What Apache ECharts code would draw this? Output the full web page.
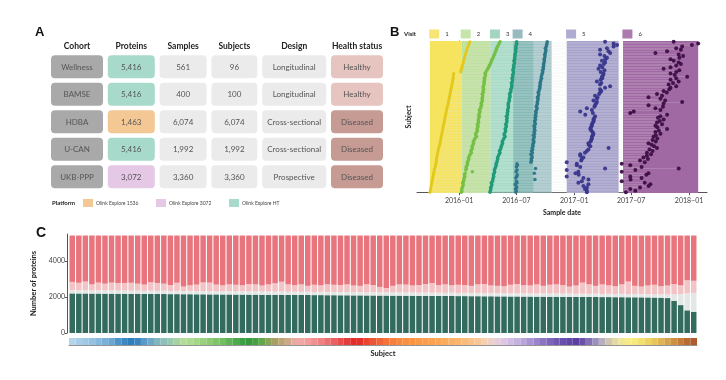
<!DOCTYPE html>
<html><head><meta charset="utf-8">
<script src="https://cdn.jsdelivr.net/npm/echarts@6/dist/echarts.min.js"></script>
<style>html,body{margin:0;padding:0;background:#fff}#c{width:726px;height:380px}</style>
</head><body><div id="c"></div>
<script>
// ---------- Panel A: cohort table ----------
const tableColumns = ['Cohort','Proteins','Samples','Subjects','Design','Health status'];
const cohorts = ['Wellness','BAMSE','HDBA','U-CAN','UKB-PPP'];
const proteins = [5416,5416,1463,5416,3072];
const samples = [561,400,6074,1992,3360];
const subjectsN = [96,100,6074,1992,3360];
const designs = ['Longitudinal','Longitudinal','Cross-sectional','Cross-sectional','Prospective'];
const healthStatus = ['Healthy','Healthy','Diseased','Diseased','Diseased'];
const platforms = ['Olink Explore HT','Olink Explore HT','Olink Explore 1536','Olink Explore HT','Olink Explore 3072'];
const platformLegend = ['Olink Explore 1536','Olink Explore 3072','Olink Explore HT'];

// ---------- Panel B: visit dates (days from 2016-01-01), subject 0 = bottom ----------
const visit1 = [-93,-92,-91,-90,-89,-88,-87,-86,-85,-84,-83,-82,-81,-80,-79,-78,-76,-75,-74,-73,
 -72,-72,-71,-70,-69,-68,-67,-66,-65,-63,-62,-61,-60,-59,-58,-57,-56,-55,-54,-53,
 -52,-51,-50,-49,-48,-47,-46,-45,-44,-43,-42,-41,-40,-39,-38,-36,-35,-34,-33,-32,
 -31,-30,-29,-28,-27,-26,-25,-24,-23,-22,-21,-20,-19,-19,-18,-17,
 5,6,8,9,10,12,13,14,15,17,18,20,21,23,24,26,28,30,32,34];
const visit2 = [7,9,8,10,12,13,11,14,15,16,18,17,19,42,21,23,22,25,27,26,
 29,31,30,33,35,39,37,40,42,41,44,46,45,48,50,55,53,52,56,58,
 57,59,60,58,62,61,61,63,64,62,65,66,64,68,69,71,70,72,74,73,
 74,75,73,77,76,78,76,77,79,80,79,81,80,82,84,82,85,88,91,94,
 96,99,101,103,105,108,110,112,114,116,118,119,122,125,127,130];
const visit3 = [98,99,101,100,103,104,102,106,107,108,110,109,111,113,112,114,116,118,117,120,
 121,123,122,125,127,130,128,131,133,134,136,138,137,140,142,146,144,143,147,148,
 146,149,150,148,151,152,151,153,150,154,153,155,154,156,157,156,156,158,160,159,
 161,162,160,163,165,164,167,167,168,166,169,170,168,171,170,172,173,171,172,174,
 173,175,176,174,177,176,178,177,179,180,179,181,180,182,183,183];
const visit4 = [180,182,179,183,181,178,184,182,241,180,183,185,239,181,184,243,182,185,184,228,
 230,229,232,231,228,233,230,234,232,235,234,236,238,235,237,239,236,240,238,241,
 239,240,238,242,241,240,243,241,244,242,245,243,246,248,245,247,249,248,250,251,
 249,252,253,251,254,255,257,256,258,257,259,260,262,261,263,264,266,265,268,267,
 269,268,270,271,270,272,273,272,274,275,276,274,277,278,279,280];
const visit5 = [406,406,400,406,395,411,379,390,411,395,342,380,370,379,342,464,385,374,374,342,
 388,390,395,385,385,400,406,411,475,417,412,411,418,420,422,422,425,427,424,420,
 417,419,422,422,425,428,427,430,432,401,425,385,422,406,430,432,435,438,427,438,
 440,432,445,448,452,448,464,480,448,452,438,450,455,454,458,459,450,462,443,455,
 448,460,464,454,465,470,462,448,480,475,448,470,491,502,491,464];
const visit6 = [530,560,544,575,602,608,590,517,545,580,544,595,602,517,560,698,580,544,517,590,
 575,600,586,597,610,597,615,605,629,620,612,602,625,615,630,618,625,640,624,635,
 661,630,624,645,629,638,650,632,640,661,544,555,640,624,648,602,650,709,655,640,
 602,645,629,660,650,668,672,690,666,680,698,672,690,725,685,672,690,700,650,672,
 690,705,698,682,672,700,712,698,624,661,705,690,709,740,760,682];
const visitNames = ['1','2','3','4','5','6'];
const visitBandStart = [-93, 7, 100, 172, 342, 521];
const visitBandEnd = [7, 100, 236, 294, 507, 760];
const dateTicks = [0, 182, 366, 547, 731];

// ---------- Panel C: proteins per subject (cumulative boundaries) ----------
const totalProteins = 5416;
const greenTop = [2200,2195,2195,2190,2190,2185,2185,2180,2180,2175,2175,2170,2170,2165,2165,2160,2160,2155,2155,2150,
 2150,2145,2145,2140,2140,2135,2135,2130,2130,2125,2125,2120,2120,2115,2115,2110,2110,2105,2105,2100,
 2100,2095,2095,2090,2090,2085,2085,2080,2080,2075,2075,2070,2070,2065,2065,2060,2060,2055,2055,2050,
 2050,2045,2045,2040,2040,2035,2035,2030,2030,2025,2025,2020,2020,2015,2015,2010,2010,2005,2005,2000,
 2000,1995,1995,1990,1990,1985,1985,1980,1975,1970,1960,1940,1790,1550,1260,1180];
const grayTop = [2380,2370,2385,2360,2375,2365,2370,2355,2365,2350,2360,2345,2355,2340,2350,2335,2345,2330,2340,2325,
 2335,2320,2330,2315,2325,2310,2320,2305,2315,2300,2310,2300,2305,2290,2300,2285,2295,2280,2290,2275,
 2285,2270,2280,2265,2275,2260,2270,2255,2265,2250,2260,2245,2255,2240,2250,2235,2245,2230,2240,2225,
 2235,2220,2230,2215,2225,2210,2220,2205,2215,2200,2210,2195,2205,2190,2200,2185,2195,2180,2190,2175,
 2185,2170,2180,2165,2175,2160,2170,2155,2160,2150,2145,2140,2150,2170,2200,2230];
const pinkTop = [2840,2790,2860,2700,2800,2740,2800,2780,2780,2790,2740,2690,2820,2780,2740,2660,2790,2580,2650,2690,
 2810,2800,2690,2650,2700,2680,2650,2720,2700,2640,2700,2760,2850,2700,2660,2700,2620,2680,2650,2700,
 2680,2660,2700,2640,2620,2700,2660,2560,2500,2620,2700,2690,2640,2660,2720,2780,2660,2700,2650,2680,
 2660,2620,2700,2720,2640,2620,2600,2680,2720,2650,2640,2700,2620,2680,2700,2660,2580,2640,2800,2700,
 2620,2700,2650,2600,2700,2860,2620,2580,2640,2680,2600,2640,2720,2650,2930,2900];
const yTicksC = [0, 2000, 4000];

// ---------- styles ----------
const subjectColors = ['#b3d4ea','#a9cde6','#9ec8e3','#94c2e0','#86b9dc','#78b0d8','#6aa6d3',
 '#4d94c8','#3d88c0','#2f7fbb','#3b86bf','#5a9ac9',
 '#6fa7c7','#7fb6c0','#8dc1b8','#9ac9b0','#a6d2a4',
 '#b2dc98','#addb92','#a2d688','#97d17e','#8ccb74','#7fc46a','#72bd60',
 '#5fb356','#4ea94c','#3f9f43','#38993e','#46a043','#62a848',
 '#8aa455','#a8a062','#bda475','#cfa888',
 '#e6a9a4','#f0a7a5','#f29c9b','#f08f8f','#ee8282',
 '#ec7070','#ea5f5f','#e84c4b','#e53b3a','#e32b2a','#e4302b','#e8442f','#ec5533',
 '#f06537','#f3733a','#f67f3c','#f8893e','#f98f41','#fa9443','#fa9946','#fb9d4a','#fba14f','#fba655','#fbab5d','#fbb066','#fbb56f','#fbbb7a','#fbc186','#fac794',
 '#f5d0b0','#f0cfc6','#e6cbd8','#dcc6e3','#d0bde3','#c4b2e0',
 '#b7a5db','#a995d3','#9a84cb','#8c74c3','#7e65bb','#7058b3',
 '#6a4fb0','#6347a8','#5c3fa1','#6a52a8','#8272b4','#9c90bf',
 '#b8b1bd','#cfc6b2','#e4dba4','#f0e694',
 '#f6ec86','#f7e97a','#f3df6c','#eed364',
 '#e7c55c','#dfb554','#d6a24b','#cd9043',
 '#c27d3a','#b86c33','#ae5c2e'];
const platformColors = {'Olink Explore 1536':'#f3c894','Olink Explore 3072':'#e4c8e6','Olink Explore HT':'#a8dacb'};
const healthColors = {'Healthy':'#e6c4c0','Diseased':'#c69b94'};
const colWidths = [52,47,47,46,64,52];
const colGap = 4.8;
const colStart = []; {let s=0; for (const w of colWidths){colStart.push(s); s+=w+colGap;}}
const visitSwatch = ['#f6e46a','#c3e4a6','#9dd4be','#93b7bd','#aba8cf','#a773aa'];
const bandColor = ['#f7e45e','#c0e2a0','rgb(110,197,163)','rgb(112,163,170)','#a7a3cc','#a169a4'];
const bandOpacity = [1,1,0.6,0.6,1,1];
const dotColor = ['#e2c81a','#74c044','#1d9a77','#2a7688','#38368c','#3d0f47'];
const dotSize = [3,3.5,3.5,3.5,4,4];
const FONT = 'Lato';

const fmt = v => v.toLocaleString('en-US');
function cellText(c,r){
  return [cohorts[r], fmt(proteins[r]), fmt(samples[r]), fmt(subjectsN[r]), designs[r], healthStatus[r]][c];
}
function cellColor(c,r){
  if (c===0) return '#a9a9a9';
  if (c===1) return platformColors[platforms[r]];
  if (c===5) return healthColors[healthStatus[r]];
  return '#ebebeb';
}
const tableData = [];
for (let r=0;r<cohorts.length;r++) for (let c=0;c<tableColumns.length;c++) tableData.push([c,r]);
const headerData = tableColumns.map((_,c)=>[c,0]);

const visits = [visit1,visit2,visit3,visit4,visit5,visit6];
const nSubj = visit1.length;
const subjLines = visit1.map((d,i)=>({coords:[[d,i],[visit6[i],i]]}));
const subjIds = greenTop.map((_,i)=>'S'+(i+1));

function dayLabel(d){
  const t = new Date(Date.UTC(2016,0,1) + d*86400000);
  return t.getUTCFullYear() + '\u2013' + String(t.getUTCMonth()+1).padStart(2,'0');
}

const legends = visitNames.map((n,k)=>({
  data:[{name:n, itemStyle:{color:visitSwatch[k], borderWidth:0}}],
  left: 459 + visitBandStart[k]*0.3146 - 0.5, top: 29.5, padding:0,
  icon:'rect', itemWidth:10, itemHeight:9, itemGap:4, selectedMode:false,
  textStyle:{fontSize:6, color:'#333', fontFamily:FONT, padding:[0,0,0,1]}
}));

const option = {
  animation:false,
  textStyle:{fontFamily:FONT},
  title:[
    {text:'A', left:30, top:21, textStyle:{fontSize:13, fontWeight:'bold', color:'#111', fontFamily:'Liberation Sans'}},
    {text:'B', left:385, top:21, textStyle:{fontSize:13, fontWeight:'bold', color:'#111', fontFamily:'Liberation Sans'}},
    {text:'C', left:31, top:221, textStyle:{fontSize:14, fontWeight:'bold', color:'#111', fontFamily:'Liberation Sans'}}
  ],
  legend: legends,
  grid:[
    {left:51, top:52.9, width:332, height:137.5},
    {left:417, top:41, width:290, height:152},
    {left:69, top:234, width:628, height:99},
    {left:69, top:338, width:628, height:7}
  ],
  xAxis:[
    {gridIndex:0, type:'value', min:0, max:332, show:false},
    {gridIndex:1, type:'value', min:-134, max:788,
      axisLine:{show:true, lineStyle:{color:'#555', width:1}},
      axisTick:{show:true, length:3, customValues:dateTicks, lineStyle:{color:'#555'}},
      axisLabel:{customValues:dateTicks, formatter:v=>dayLabel(v), fontSize:7, color:'#444', margin:4},
      splitLine:{show:false},
      name:'Sample date', nameLocation:'middle', nameGap:16,
      nameTextStyle:{fontSize:7, fontWeight:'bold', color:'#222'}},
    {gridIndex:2, type:'category', data:subjIds, show:false},
    {gridIndex:3, type:'category', data:subjIds,
      axisLine:{show:true, lineStyle:{color:'#777', width:0.8}}, axisTick:{show:false}, axisLabel:{show:false},
      name:'Subject', nameLocation:'middle', nameGap:5,
      nameTextStyle:{fontSize:7.5, fontWeight:'bold', color:'#222'}}
  ],
  yAxis:[
    {gridIndex:0, type:'value', min:-0.5, max:4.5, inverse:true, show:false},
    {gridIndex:1, type:'value', min:-0.5, max:nSubj-0.5,
      axisLine:{show:true, lineStyle:{color:'#666', width:1}}, axisTick:{show:false}, axisLabel:{show:false},
      splitLine:{show:false},
      name:'Subject', nameLocation:'middle', nameGap:5, nameRotate:90,
      nameTextStyle:{fontSize:7, fontWeight:'bold', color:'#222'}},
    {gridIndex:2, type:'value', min:0, max:5500, interval:2000, offset:2,
      axisLine:{show:true, lineStyle:{color:'#555', width:1}},
      axisTick:{show:true, length:2, customValues:yTicksC, lineStyle:{color:'#555'}},
      axisLabel:{customValues:yTicksC, formatter:v=>String(v), fontSize:7, color:'#444', margin:2},
      splitLine:{show:false},
      name:'Number of proteins', nameLocation:'middle', nameGap:24, nameRotate:90,
      nameTextStyle:{fontSize:7.5, fontWeight:'bold', color:'#222'}},
    {gridIndex:3, type:'value', min:0, max:1, show:false}
  ],
  graphic:[
    {type:'text', left:404, top:31, style:{text:'Visit', font:'bold 6px '+FONT, fill:'#222'}},
    {type:'text', left:52, top:200, style:{text:'Platform', font:'bold 6px '+FONT, fill:'#222'}},
    ...platformLegend.map((p,k)=>({type:'group', left:[83,156,229][k], top:199, children:[
      {type:'rect', shape:{x:0,y:0,width:10,height:8}, style:{fill:platformColors[p]}},
      {type:'text', x:13, y:1.5, style:{text:p, font:'5px '+FONT, fill:'#444'}}
    ]}))
  ],
  series:[
    {type:'custom', xAxisIndex:0, yAxisIndex:0, data:tableData, silent:true,
      renderItem:(params, api)=>{
        const c = api.value(0), r = api.value(1);
        const p = api.coord([colStart[c], r]);
        const w = api.size([colWidths[c], 0])[0];
        return {type:'group', children:[
          {type:'rect', shape:{x:p[0], y:p[1]-11.5, width:w, height:23, r:4}, style:{fill:cellColor(c,r)}},
          {type:'text', style:{text:cellText(c,r), x:p[0]+w/2, y:p[1]+0.5, align:'center', verticalAlign:'middle',
            fill:'#555', font:'8px '+FONT}}
        ]};
      }},
    {type:'custom', xAxisIndex:0, yAxisIndex:0, data:headerData, silent:true,
      renderItem:(params, api)=>{
        const c = api.value(0), r = api.value(1);
        const p = api.coord([colStart[c], r]);
        const w = api.size([colWidths[c], 0])[0];
        return {type:'text', style:{text:tableColumns[c], x:p[0]+w/2, y:p[1]-20, align:'center', verticalAlign:'middle',
          fill:'#222', font:'bold 8.5px '+FONT}};
      }},
    {type:'line', name:'bands', xAxisIndex:1, yAxisIndex:1, data:[[0,0]], symbol:'none', lineStyle:{width:0}, z:1, silent:true,
      markArea:{silent:true, data: visitBandStart.map((s,k)=>[
        {xAxis:s, itemStyle:{color:bandColor[k], opacity:bandOpacity[k]}}, {xAxis:visitBandEnd[k]}])}},
    {type:'lines', coordinateSystem:'cartesian2d', xAxisIndex:1, yAxisIndex:1, data:subjLines, z:2, silent:true,
      lineStyle:{color:'rgba(228,228,228,0.38)', width:1}},
    ...visits.map((arr,k)=>({
      type:'scatter', name:visitNames[k], xAxisIndex:1, yAxisIndex:1, z:3,
      data: arr.map((d,i)=>[d,i]), symbolSize: dotSize[k],
      itemStyle:{color:dotColor[k], opacity:0.95}
    })),
    {type:'bar', xAxisIndex:2, yAxisIndex:2, stack:'p', barCategoryGap:'16%', data:greenTop,
      itemStyle:{color:'#346b5f'}, silent:true},
    {type:'bar', xAxisIndex:2, yAxisIndex:2, stack:'p', data:grayTop.map((v,i)=>v-greenTop[i]),
      itemStyle:{color:'#e3e8e6'}, silent:true},
    {type:'bar', xAxisIndex:2, yAxisIndex:2, stack:'p', data:pinkTop.map((v,i)=>v-grayTop[i]),
      itemStyle:{color:'#f3c4c6'}, silent:true},
    {type:'bar', xAxisIndex:2, yAxisIndex:2, stack:'p', data:pinkTop.map(v=>totalProteins-v),
      itemStyle:{color:'#e8747d'}, silent:true},
    {type:'bar', xAxisIndex:3, yAxisIndex:3, barCategoryGap:'0%', data:subjIds.map(()=>1), silent:true,
      itemStyle:{color:p=>subjectColors[p.dataIndex]}}
  ]
};
const chart = echarts.init(document.getElementById('c'));
chart.setOption(option);
</script></body></html>
